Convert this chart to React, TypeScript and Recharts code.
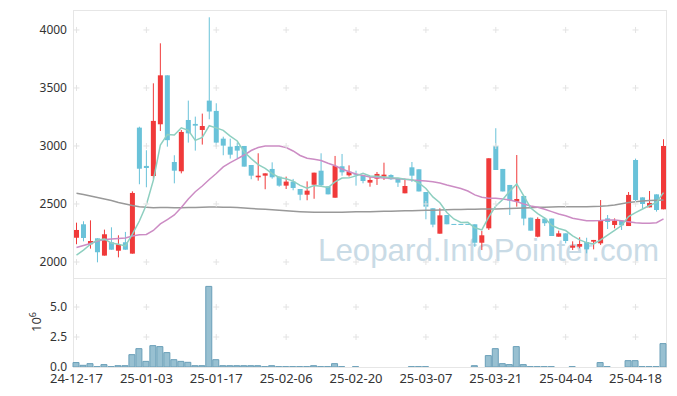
import React from 'react';
import { ComposedChart, BarChart, Bar, Line, XAxis, YAxis, ReferenceDot } from 'recharts';

const dates = ['24-12-17','24-12-18','24-12-19','24-12-20','24-12-23','24-12-24','24-12-26','24-12-27','24-12-30','25-01-02','25-01-03','25-01-06','25-01-07','25-01-08','25-01-09','25-01-10','25-01-13','25-01-14','25-01-15','25-01-16','25-01-17','25-01-20','25-01-21','25-01-22','25-01-23','25-01-24','25-01-31','25-02-03','25-02-04','25-02-05','25-02-06','25-02-07','25-02-10','25-02-11','25-02-12','25-02-13','25-02-14','25-02-17','25-02-18','25-02-19','25-02-20','25-02-21','25-02-24','25-02-25','25-02-26','25-02-27','25-02-28','25-03-04','25-03-05','25-03-06','25-03-07','25-03-10','25-03-11','25-03-12','25-03-13','25-03-14','25-03-17','25-03-18','25-03-19','25-03-20','25-03-21','25-03-24','25-03-25','25-03-26','25-03-27','25-03-28','25-03-31','25-04-01','25-04-02','25-04-03','25-04-04','25-04-07','25-04-08','25-04-09','25-04-10','25-04-11','25-04-14','25-04-15','25-04-16','25-04-17','25-04-18','25-04-21','25-04-22','25-04-23','25-04-24'];

const opens = [2209,2325,2153,2204,2055,2170,2097,2170,2072,3158,
  2828,2741,3187,3609,2862,2782,3224,3190,3138,3391,
  3302,3063,2994,3000,3000,2836,2730,2744,2802,2736,
  2658,2693,2629,2580,2666,2787,2652,2554,2825,2747,
  2756,2747,2684,2718,2736,2750,2724,2592,2816,2799,
  2603,2463,2244,2405,2328,2328,2328,2325,2166,2290,
  3000,2802,2664,2520,2569,2382,2218,2374,2374,2218,
  2247,2123,2132,2172,2175,2161,2376,2319,2356,2310,
  2879,2557,2471,2583,2454];

const highs = [2339,2351,2359,2204,2279,2299,2230,2259,2609,3166,
  2963,3540,3885,3609,2920,3138,3391,3253,3279,4109,
  3368,3080,3063,3029,3000,2836,2937,2764,2859,2736,
  2736,2716,2629,2695,2770,2937,2652,2914,2931,2833,
  2787,2747,2736,2776,2856,2756,2724,2718,2862,2799,
  2603,2463,2463,2405,2328,2328,2328,2325,2267,2894,
  3153,2802,2664,2922,2569,2382,2385,2385,2374,2270,
  2247,2178,2213,2209,2190,2534,2405,2376,2356,2603,
  2891,2557,2612,2583,3058];

const lows = [2153,2178,2115,1997,2055,2106,2040,2106,2072,2670,
  2644,2716,3129,2994,2678,2764,3029,2960,3012,3230,
  2994,2920,2891,2891,2822,2713,2701,2627,2718,2649,
  2629,2618,2532,2532,2545,2649,2583,2554,2744,2736,
  2658,2678,2649,2664,2707,2707,2647,2592,2690,2608,
  2368,2299,2244,2325,2328,2328,2328,2130,2103,2276,
  2793,2608,2405,2477,2316,2270,2213,2310,2224,2218,
  2161,2103,2118,2075,2109,2147,2284,2290,2276,2310,
  2520,2460,2471,2434,2454];

const closes = [2276,2207,2181,2084,2239,2106,2153,2106,2595,2804,
  2810,3216,3609,3050,2787,3121,3109,3175,3172,3297,
  3029,3003,2925,2960,2822,2744,2744,2764,2730,2658,
  2693,2638,2580,2615,2770,2661,2583,2828,2773,2778,
  2747,2698,2707,2759,2753,2713,2684,2655,2744,2608,
  2477,2322,2402,2325,2328,2328,2328,2166,2230,2894,
  2793,2608,2529,2543,2374,2270,2371,2334,2224,2247,
  2181,2141,2155,2109,2190,2362,2345,2356,2316,2578,
  2534,2500,2509,2448,3000];

const ma5 = [2060,2103,2153,2190,2197,2163,2153,2138,2240,2353,
  2494,2706,3007,3098,3094,3157,3135,3048,3073,3175,
  3156,3135,3085,3043,2948,2891,2839,2807,2761,2728,
  2718,2697,2660,2637,2659,2653,2642,2691,2723,2725,
  2742,2765,2741,2738,2733,2726,2723,2713,2710,2681,
  2634,2561,2511,2427,2371,2341,2342,2295,2276,2389,
  2482,2538,2611,2673,2569,2465,2417,2378,2315,2289,
  2271,2225,2190,2167,2155,2191,2232,2272,2314,2391,
  2426,2457,2487,2514,2598];

const ma20 = [2125,2142,2159,2181,2194,2198,2203,2207,2224,2235,
  2237,2272,2328,2366,2405,2470,2543,2606,2655,2711,
  2763,2819,2856,2888,2922,2961,2987,3000,3000,3000,
  2987,2957,2918,2894,2885,2875,2851,2830,2802,2778,
  2759,2746,2733,2728,2724,2722,2717,2713,2707,2703,
  2698,2692,2681,2664,2649,2634,2612,2578,2558,2549,
  2549,2543,2534,2520,2500,2483,2472,2454,2434,2414,
  2399,2377,2366,2356,2356,2358,2362,2362,2356,2347,
  2339,2334,2334,2339,2371];

const maLong = [2592,2582,2569,2556,2543,2530,2513,2500,2487,2477,
  2472,2468,2469,2469,2468,2468,2469,2470,2472,2474,
  2473,2472,2471,2470,2466,2461,2457,2454,2450,2446,
  2441,2437,2434,2431,2429,2428,2428,2428,2429,2431,
  2433,2434,2434,2435,2437,2438,2440,2441,2442,2444,
  2446,2447,2448,2450,2452,2453,2454,2455,2456,2457,
  2457,2459,2462,2464,2466,2468,2471,2472,2474,2476,
  2477,2477,2477,2477,2478,2480,2485,2492,2502,2512,
  2519,2525,2529,2532,2534];

// volume in units of 10^6
const volumes = [0.37,0.14,0.28,0.03,0.2,0.03,0.11,0.11,1.03,1.53,
  0.47,1.78,1.7,1.2,0.61,0.47,0.39,0.11,0.11,6.72,
  0.61,0.11,0.11,0.11,0.11,0.11,0.11,0.03,0.11,0.03,
  0.03,0.03,0.03,0.03,0.11,0.03,0.03,0.28,0.03,0,
  0.03,0,0,0,0,0,0,0,0.03,0.03,
  0.03,0,0,0,0,0,0,0.11,0,0.95,
  1.53,0.28,0.2,1.7,0.2,0.03,0.03,0.03,0.03,0,
  0,0.03,0,0,0,0.37,0.03,0,0,0.53,
  0.53,0.03,0.03,0.03,1.95];

const xTicks = ['24-12-17','25-01-03','25-01-17','25-02-06','25-02-20','25-03-07','25-03-21','25-04-04','25-04-18'];
const priceTicks = [2000, 2500, 3000, 3500, 4000];
const volTicks = [0, 2.5, 5];
const volGridTicks = [2.5, 5];

const UP = '#f03a3a';
const DOWN = '#69c2d9';

const data = dates.map((d, i) => ({
  date: d,
  open: opens[i],
  high: highs[i],
  low: lows[i],
  close: closes[i],
  range: [lows[i], highs[i]],
  ma5: ma5[i],
  ma20: ma20[i],
  maLong: maLong[i],
  vol: volumes[i],
}));

const Candle = (props: any) => {
  const { x, y, width, height, payload } = props;
  if (!payload || x == null) return null;
  const { open, close, high, low } = payload;
  const top = Math.min(y, y + height);
  const h = Math.abs(height);
  const span = high - low;
  const yOf = (v: number) => (span > 0 ? top + ((high - v) / span) * h : top);
  const color = close > open ? UP : DOWN;
  const cx = x + width / 2;
  const bTop = Math.min(yOf(open), yOf(close));
  const bH = Math.max(1, Math.abs(yOf(open) - yOf(close)));
  return (
    <g>
      {h > 0 && <line x1={cx} x2={cx} y1={top} y2={top + h} stroke={color} strokeWidth={1} />}
      <rect x={cx - 2.5} y={bTop} width={5} height={bH} fill={color} />
    </g>
  );
};

const Plus = (p: any) => (
  <path d={`M${p.cx - 3},${p.cy}h6M${p.cx},${p.cy - 3}v6`} stroke="#e3e3e3" strokeWidth={1} fill="none" />
);

const tickStyle = { fontSize: 12, fill: '#333' };

export default function App() {
  return (
    <div style={{ position: 'absolute', left: 0, top: 0, width: 677, height: 396, background: '#fff', fontFamily: '"Noto Sans", sans-serif' }}>
      <div style={{ position: 'absolute', left: 318, top: 233, fontSize: 31.3, lineHeight: '36px', color: '#c9dbe6', fontFamily: '"Liberation Sans", sans-serif', whiteSpace: 'nowrap' }}>
        Leopard.InfoPointer.com
      </div>
      <div style={{ position: 'absolute', left: 73, top: 10, width: 594, height: 269, boxSizing: 'border-box', border: '1px solid #e6e6e6' }} />
      <div style={{ position: 'absolute', left: 73, top: 278, width: 594, height: 90, boxSizing: 'border-box', border: '1px solid #e6e6e6' }} />
      <div style={{ position: 'absolute', left: 0, top: 0 }}>
        <ComposedChart width={677} height={278} data={data} margin={{ top: 10, right: 10, bottom: 0, left: 13 }}>
          <XAxis dataKey="date" hide />
          <YAxis type="number" domain={[1862, 4172]} ticks={priceTicks} allowDataOverflow axisLine={false} tickLine={false} width={60} tickSize={4} tickMargin={2} tick={tickStyle} />
          {xTicks.map((xt) =>
            priceTicks.map((pt) => (
              <ReferenceDot key={xt + pt} x={xt} y={pt} r={3} shape={Plus} ifOverflow="visible" />
            ))
          )}
          <Bar dataKey="range" barSize={5} shape={(p: any) => <Candle {...p} />} isAnimationActive={false} />
          <Line type="linear" dataKey="maLong" stroke="#999999" strokeWidth={1.5} dot={false} isAnimationActive={false} />
          <Line type="linear" dataKey="ma20" stroke="#cc8cc4" strokeWidth={1.5} dot={false} isAnimationActive={false} />
          <Line type="linear" dataKey="ma5" stroke="#8ecfc0" strokeWidth={1.5} dot={false} isAnimationActive={false} />
        </ComposedChart>
      </div>
      <div style={{ position: 'absolute', left: 0, top: 278 }}>
        <BarChart width={677} height={118} data={data} margin={{ top: 0, right: 10, bottom: 0, left: 13 }} barCategoryGap={0}>
          <XAxis dataKey="date" ticks={xTicks} interval={0} axisLine={false} tickLine={false} tickSize={3} tickMargin={4} height={29} tick={{ fontSize: 13, fill: '#333' }} />
          <YAxis type="number" domain={[0, 7.42]} ticks={volTicks} allowDataOverflow axisLine={false} tickLine={false} width={60} tickSize={4} tickMargin={2} tick={tickStyle} tickFormatter={(v: number) => v.toFixed(1)} />
          {xTicks.map((xt) =>
            volGridTicks.map((vt) => (
              <ReferenceDot key={xt + vt} x={xt} y={vt} r={3} shape={Plus} ifOverflow="visible" />
            ))
          )}
          <Bar dataKey="vol" barSize={6} fill="#98c0d1" stroke="#6a9fb8" strokeWidth={1} isAnimationActive={false} />
        </BarChart>
      </div>
      <div style={{ position: 'absolute', left: 20, top: 312, width: 26, height: 20, transform: 'rotate(-90deg)', fontSize: 13, color: '#333', lineHeight: '20px', textAlign: 'center', whiteSpace: 'nowrap' }}>
        10<sup style={{ fontSize: 9 }}>6</sup>
      </div>
    </div>
  );
}
